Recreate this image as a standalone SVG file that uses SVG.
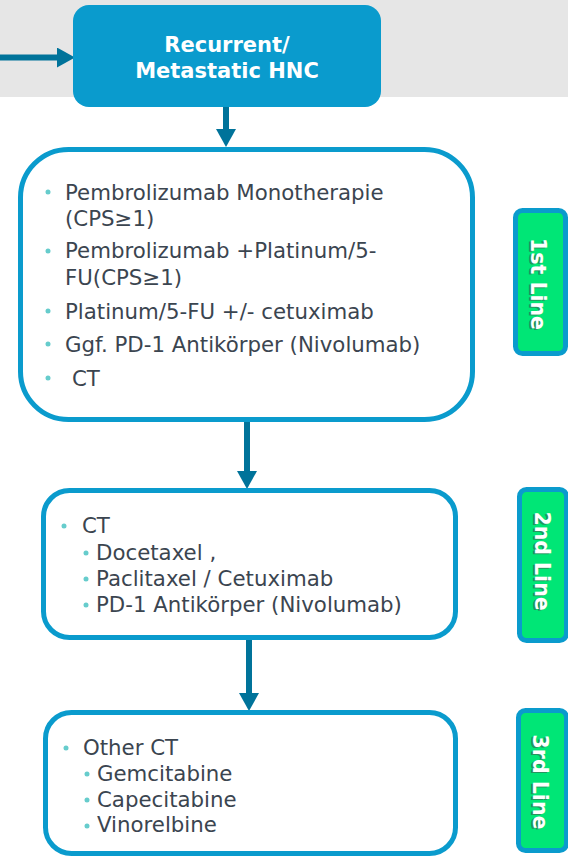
<svg xmlns="http://www.w3.org/2000/svg" width="568" height="857" viewBox="0 0 568 857">
<defs>
<style>
.box{fill:#fff;stroke:#0A9BCD;stroke-width:5}
.t{font-family:"DejaVu Sans",Verdana,sans-serif;font-size:21.3px;fill:#3B4550}
.b{fill:#66CCCC}
.conn{stroke:#00739A;stroke-width:6;fill:none}
.lbl{fill:#00E676;stroke:#0A9BCD;stroke-width:5}
.lt{font-family:"DejaVu Sans",Verdana,sans-serif;font-weight:bold;font-size:20.5px;fill:#fff;text-anchor:middle}
.ls{font-family:"DejaVu Sans",Verdana,sans-serif;font-weight:bold;font-size:20.5px;fill:#4a4a4a;fill-opacity:0.55;text-anchor:middle}
</style>
<marker id="ah" markerUnits="userSpaceOnUse" viewBox="0 0 18 20" refX="8" refY="10" markerWidth="18" markerHeight="20" orient="auto">
<path d="M0,0 L18,10 L0,20 Z" fill="#00739A"/>
</marker>
</defs>
<rect x="0" y="0" width="568" height="97" fill="#E6E6E6"/>
<g id="connectors">
<line class="conn" x1="0" y1="57.5" x2="65" y2="57.5" stroke-width="5" marker-end="url(#ah)"/>
<line class="conn" x1="226" y1="104" x2="226" y2="137" marker-end="url(#ah)"/>
<line class="conn" x1="247" y1="420" x2="247" y2="479" marker-end="url(#ah)"/>
<line class="conn" x1="249" y1="639" x2="249" y2="701" marker-end="url(#ah)"/>
</g>
<g id="start">
<rect x="73" y="5" width="308" height="102" rx="16" fill="#0A9BCD"/>
<text x="227" y="52" text-anchor="middle" font-family="'DejaVu Sans',Verdana,sans-serif" font-weight="bold" font-size="21" fill="#fff">Recurrent/</text>
<text x="227" y="78" text-anchor="middle" font-family="'DejaVu Sans',Verdana,sans-serif" font-weight="bold" font-size="21" fill="#fff">Metastatic HNC</text>
</g>
<g id="first-line">
<rect class="box" x="20.5" y="149.5" width="452" height="270" rx="48"/>
<circle class="b" cx="48" cy="192" r="2.5"/>
<text class="t" x="65" y="200">Pembrolizumab Monotherapie</text>
<text class="t" x="65" y="226">(CPS≥1)</text>
<circle class="b" cx="48" cy="251" r="2.5"/>
<text class="t" x="65" y="258">Pembrolizumab +Platinum/5-</text>
<text class="t" x="65" y="285">FU(CPS≥1)</text>
<circle class="b" cx="48" cy="311" r="2.5"/>
<text class="t" x="65" y="319">Platinum/5-FU +/- cetuximab</text>
<circle class="b" cx="48" cy="344" r="2.5"/>
<text class="t" x="65" y="352">Ggf. PD-1 Antikörper (Nivolumab)</text>
<circle class="b" cx="48" cy="378" r="2.5"/>
<text class="t" x="72" y="386">CT</text>
</g>
<g id="second-line">
<rect class="box" x="43.5" y="490.5" width="412" height="147" rx="26"/>
<circle class="b" cx="64" cy="526" r="2.5"/>
<text class="t" x="82" y="533">CT</text>
<circle class="b" cx="86" cy="553" r="2.5"/>
<text class="t" x="96" y="560">Docetaxel ,</text>
<circle class="b" cx="86" cy="579" r="2.5"/>
<text class="t" x="96" y="586">Paclitaxel / Cetuximab</text>
<circle class="b" cx="86" cy="605" r="2.5"/>
<text class="t" x="96" y="612">PD-1 Antikörper (Nivolumab)</text>
</g>
<g id="third-line">
<rect class="box" x="45.5" y="712.5" width="410" height="141" rx="26"/>
<circle class="b" cx="66" cy="748" r="2.5"/>
<text class="t" x="83" y="755">Other CT</text>
<circle class="b" cx="87" cy="774" r="2.5"/>
<text class="t" x="97" y="781">Gemcitabine</text>
<circle class="b" cx="87" cy="800" r="2.5"/>
<text class="t" x="97" y="807">Capecitabine</text>
<circle class="b" cx="87" cy="826" r="2.5"/>
<text class="t" x="97" y="832">Vinorelbine</text>
</g>
<g id="label-1st">
<rect class="lbl" x="515.5" y="210.5" width="50" height="143" rx="7"/>
<text class="ls" transform="translate(537,284) rotate(90)" x="1" y="8">1st Line</text>
<text class="lt" transform="translate(538,284) rotate(90)" y="7">1st Line</text>
</g>
<g id="label-2nd">
<rect class="lbl" x="519.5" y="489.5" width="47" height="151" rx="7"/>
<text class="ls" transform="translate(541,561) rotate(90)" x="1" y="8">2nd Line</text>
<text class="lt" transform="translate(542,561) rotate(90)" y="7">2nd Line</text>
</g>
<g id="label-3rd">
<rect class="lbl" x="518.5" y="710.5" width="48" height="140" rx="7"/>
<text class="ls" transform="translate(539,782) rotate(90)" x="1" y="8">3rd Line</text>
<text class="lt" transform="translate(540,782) rotate(90)" y="7">3rd Line</text>
</g>
</svg>
